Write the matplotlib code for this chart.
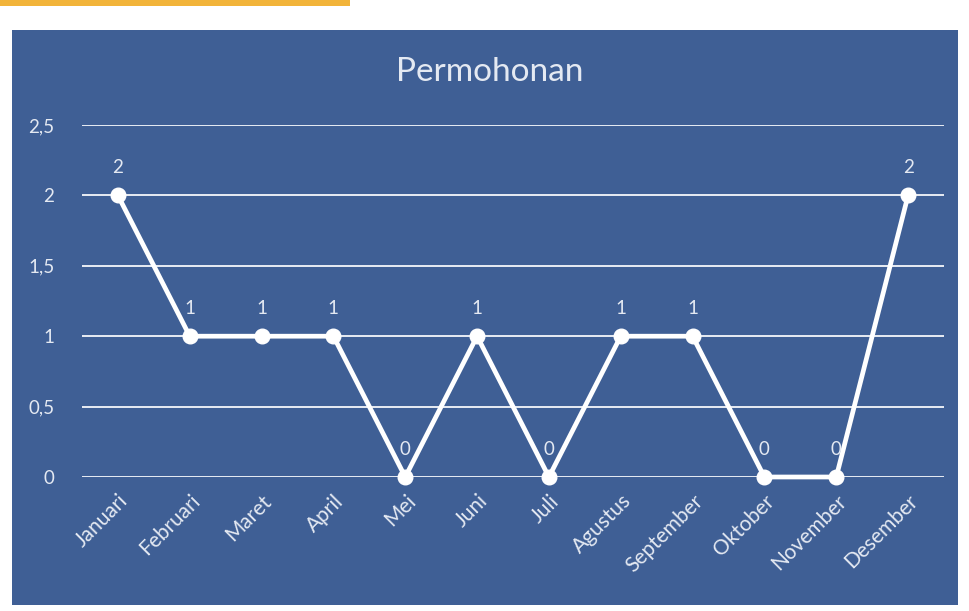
import matplotlib
matplotlib.use("Agg")
import matplotlib.pyplot as plt
from matplotlib.patches import Rectangle

months = ["Januari", "Februari", "Maret", "April", "Mei", "Juni", "Juli",
          "Agustus", "September", "Oktober", "November", "Desember"]
values = [2, 1, 1, 1, 0, 1, 0, 1, 1, 0, 0, 2]
yticks = [0, 0.5, 1, 1.5, 2, 2.5]
ytick_labels = ["0", "0,5", "1", "1,5", "2", "2,5"]

plt.rcParams['font.family'] = ['Lato', 'DejaVu Sans']

BLUE = "#3f5f95"
TXT = "#e4e9f2"

fig = plt.figure(figsize=(9.7, 6.11), dpi=100)
fig.patch.set_facecolor("white")
bg = fig.add_axes([0, 0, 1, 1], zorder=-5)
bg.set_xlim(0, 970)
bg.set_ylim(611, 0)
bg.axis("off")
bg.add_patch(Rectangle((12, 30), 946, 575, facecolor=BLUE, edgecolor="none"))
bg.add_patch(Rectangle((0, 0), 350, 6, facecolor="#f2b43a", edgecolor="none"))

ax = fig.add_axes([82/970, 1-477/611, (944-82)/970, (477-125)/611], zorder=1)
ax.set_facecolor("none")
x = list(range(len(months)))
ax.plot(x, values, color="white", lw=3.4, marker="o", markersize=10.5,
        markerfacecolor="white", markeredgecolor="white", zorder=3,
        solid_joinstyle="round", clip_on=False)
for xi, v in zip(x, values):
    ax.annotate(str(v), (xi, v), xytext=(0, 14), textcoords="offset points",
                ha="center", va="bottom", color=TXT, fontsize=13.5)

ax.set_xlim(-0.5, len(months) - 0.5)
ax.set_ylim(0, 2.5)
ax.set_yticks(yticks)
ax.set_yticklabels(ytick_labels, color=TXT, fontsize=13.5)
ax.set_xticks(x)
ax.set_xticklabels(months, rotation=45, ha="right", rotation_mode="anchor",
                   color=TXT, fontsize=15)
ax.tick_params(length=0, pad=10)
ax.tick_params(axis="y", pad=20)
ax.grid(axis="y", color="#e8ecf4", lw=1.4)
ax.set_axisbelow(True)
for s in ax.spines.values():
    s.set_visible(False)

fig.text(490/970, 1-72/611, "Permohonan", ha="center", va="center",
         color=TXT, fontsize=24)

fig.savefig("out.png", dpi=100, facecolor=fig.get_facecolor())
